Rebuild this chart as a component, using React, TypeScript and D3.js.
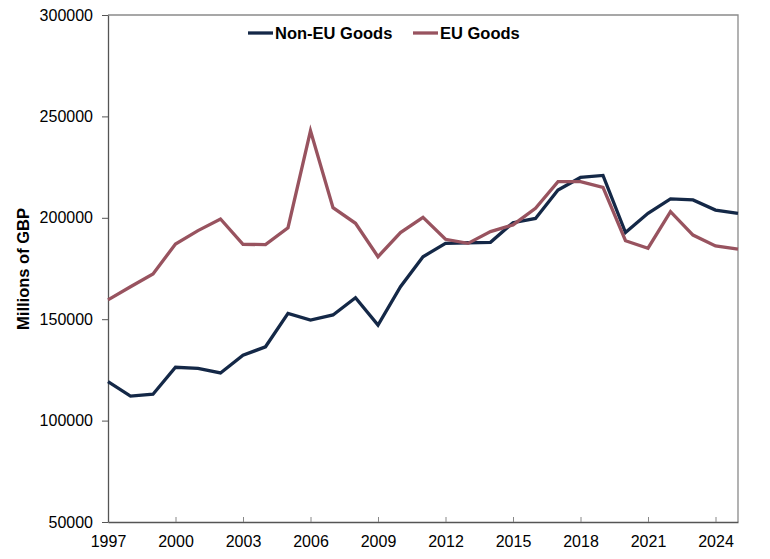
import * as d3 from "d3";
import { useEffect, useRef } from "react";

const years = [
  1997, 1998, 1999, 2000, 2001, 2002, 2003, 2004, 2005, 2006, 2007, 2008, 2009, 2010,
  2011, 2012, 2013, 2014, 2015, 2016, 2017, 2018, 2019, 2020, 2021, 2022, 2023, 2024, 2025,
];

const nonEuGoods = [
  119200, 112100, 113000, 126300, 125800, 123500, 132200, 136400, 152900, 149600, 152100,
  160600, 147100, 166000, 180800, 187400, 187700, 187900, 197600, 199700, 213700, 219900,
  220900, 192700, 202200, 209300, 208800, 203800, 202200,
];

const euGoods = [
  159500, 166000, 172300, 187100, 193700, 199400, 186900, 186800, 195100, 242900, 205000,
  197300, 180800, 192700, 200200, 189400, 187400, 193200, 196500, 204700, 217800, 217800,
  215000, 188700, 185000, 203000, 191500, 186100, 184500,
];

const xTicks = [1997, 2000, 2003, 2006, 2009, 2012, 2015, 2018, 2021, 2024];
const yTicks = [50000, 100000, 150000, 200000, 250000, 300000];

const series = [
  { name: "Non-EU Goods", values: nonEuGoods, color: "#142847" },
  { name: "EU Goods", values: euGoods, color: "#98535f" },
];

const width = 770;
const height = 559;
const marginLeft = 108;
const marginRight = 32;
const marginTop = 15;
const marginBottom = 37;
const font = "'Liberation Sans', Arial, sans-serif";

export default function App() {
  const ref = useRef<SVGSVGElement>(null);

  useEffect(() => {
    const svg = d3.select(ref.current);
    svg.selectAll("*").remove();

    const x = d3.scaleLinear([1997, 2025], [marginLeft, width - marginRight]);
    const y = d3.scaleLinear([50000, 300000], [height - marginBottom, marginTop]);

    // frame: top and right
    svg
      .append("path")
      .attr("fill", "none")
      .attr("stroke", "#8a8a8a")
      .attr("stroke-width", 1.3)
      .attr(
        "d",
        `M${marginLeft},${marginTop}H${width - marginRight}V${height - marginBottom}`
      );

    const xAxis = svg
      .append("g")
      .attr("transform", `translate(0,${height - marginBottom})`)
      .call(
        d3
          .axisBottom(x)
          .tickValues(xTicks)
          .tickFormat(d3.format("d"))
          .tickSizeInner(-5)
          .tickSizeOuter(0)
          .tickPadding(14)
      );
    xAxis.select(".domain").attr("stroke", "#555").attr("stroke-width", 1.3);
    xAxis.selectAll(".tick line").attr("stroke", "#888");
    xAxis
      .selectAll("text")
      .attr("font-family", font)
      .attr("font-size", 16)
      .attr("fill", "#000");

    const yAxis = svg
      .append("g")
      .attr("transform", `translate(${marginLeft},0)`)
      .call(
        d3
          .axisLeft(y)
          .tickValues(yTicks)
          .tickFormat(d3.format("d"))
          .tickSizeInner(6)
          .tickSizeOuter(0)
          .tickPadding(9)
      );
    yAxis.select(".domain").attr("stroke", "#555").attr("stroke-width", 1.3);
    yAxis.selectAll(".tick line").attr("stroke", "#555");
    yAxis
      .selectAll("text")
      .attr("font-family", font)
      .attr("font-size", 16)
      .attr("fill", "#000");

    svg
      .append("text")
      .attr("transform", `translate(29,269) rotate(-90)`)
      .attr("text-anchor", "middle")
      .attr("font-family", font)
      .attr("font-size", 16.5)
      .attr("font-weight", "bold")
      .text("Millions of GBP");

    const line = d3
      .line<number>()
      .x((_, i) => x(years[i]))
      .y((d) => y(d));

    svg
      .selectAll(".series")
      .data(series)
      .enter()
      .append("path")
      .attr("fill", "none")
      .attr("stroke", (d) => d.color)
      .attr("stroke-width", 3.3)
      .attr("stroke-linejoin", "miter")
      .attr("d", (d) => line(d.values));

    const legendX = [248, 413];
    const legend = svg
      .selectAll(".legend")
      .data(series)
      .enter()
      .append("g")
      .attr("transform", (_, i) => `translate(${legendX[i]},33)`);
    legend
      .append("line")
      .attr("x1", 0)
      .attr("x2", 25)
      .attr("stroke", (d) => d.color)
      .attr("stroke-width", 3.3);
    legend
      .append("text")
      .attr("x", 27)
      .attr("dy", "0.35em")
      .attr("font-family", font)
      .attr("font-size", 16.5)
      .attr("font-weight", "bold")
      .text((d) => d.name);
  }, []);

  return (
    <svg
      ref={ref}
      width={width}
      height={height}
      style={{ position: "absolute", left: 0, top: 0, background: "#fff" }}
    />
  );
}
